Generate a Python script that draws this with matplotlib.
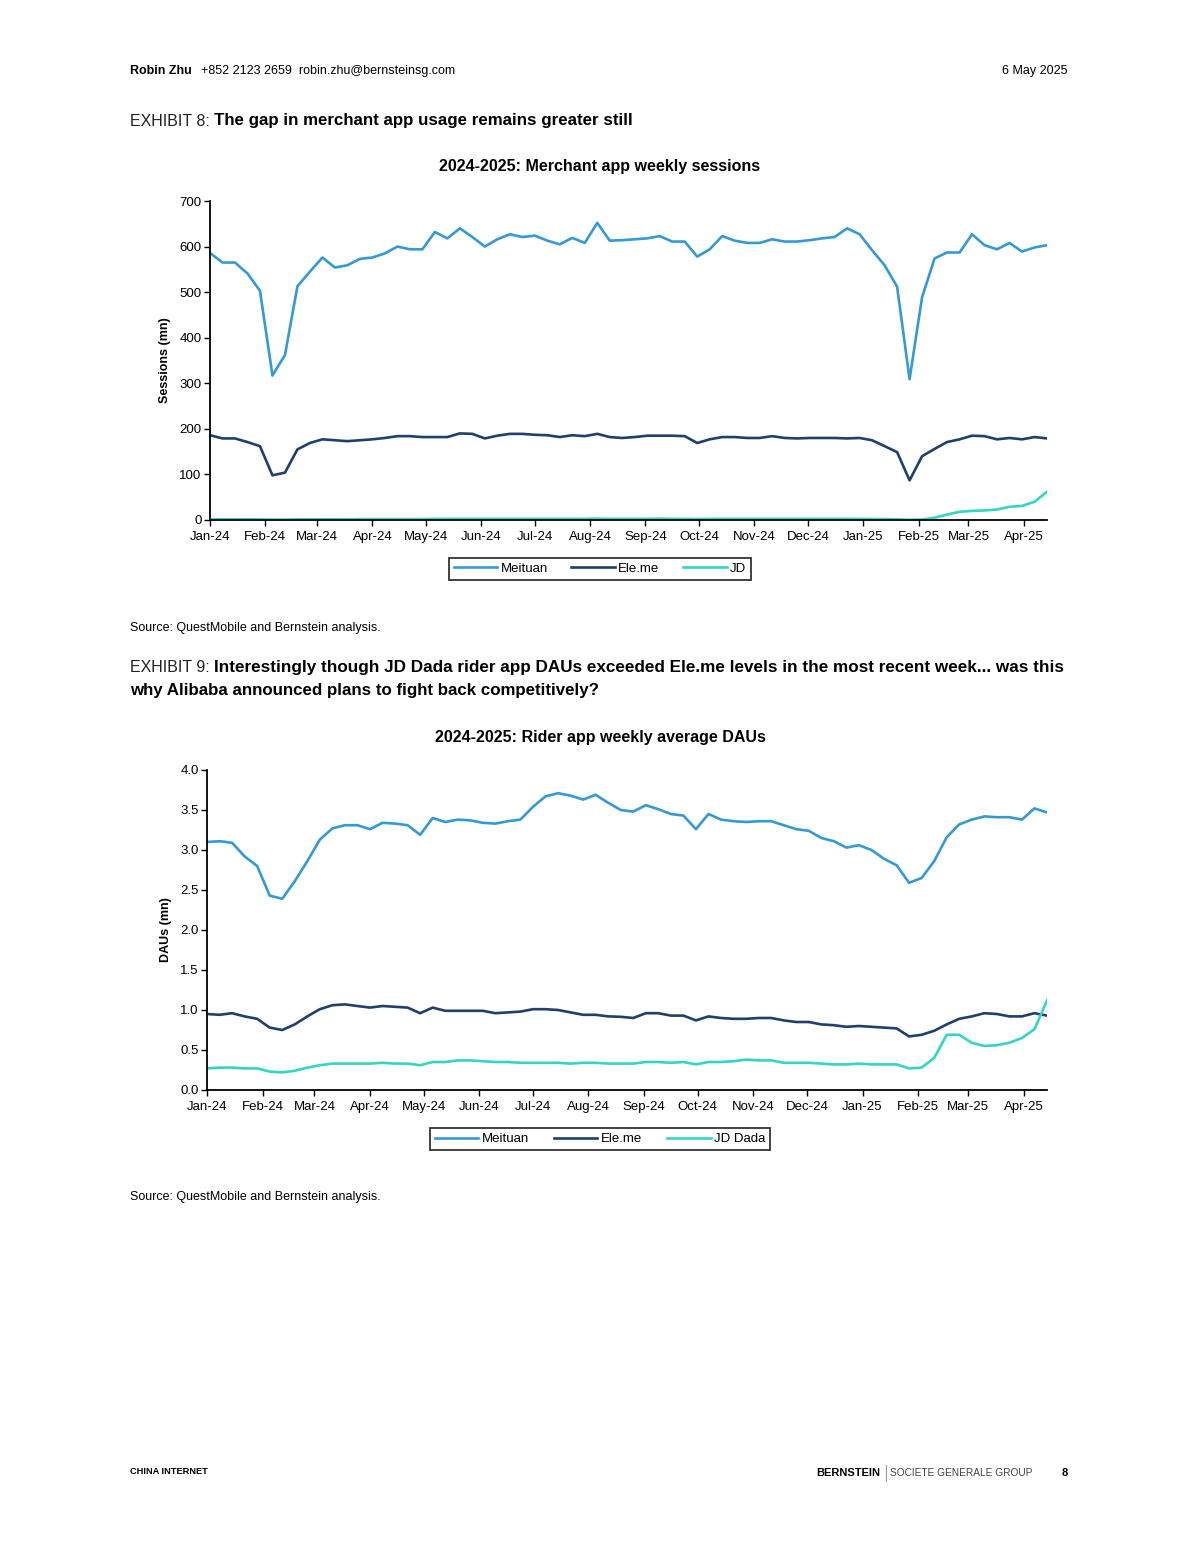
import numpy as np
import pandas as pd
import matplotlib
matplotlib.use("Agg")
import matplotlib.pyplot as plt
import matplotlib.dates as mdates
from matplotlib.lines import Line2D

plt.rcParams['font.family'] = ['Liberation Sans', 'DejaVu Sans']

# weekly data, Jan-24 .. mid Apr-25
weeks = pd.date_range('2024-01-01', periods=68, freq='7D')

# merchant app weekly sessions (mn)
meituan_sessions = [586, 565, 565, 541, 503, 317, 362, 513, 545, 576, 554, 559, 573, 576, 585, 600, 594,
                    594, 632, 618, 640, 621, 600, 616, 627, 621, 624, 613, 605, 619, 608, 652, 613, 614,
                    616, 618, 623, 611, 611, 578, 594, 623, 613, 608, 608, 616, 611, 611, 614, 618, 621,
                    640, 627, 592, 559, 512, 309, 489, 574, 587, 587, 627, 603, 594, 608, 589, 598, 603]
eleme_sessions = [186, 179, 179, 171, 162, 98, 104, 155, 169, 177, 175, 173, 175, 177, 180, 184, 184,
                  182, 182, 182, 190, 189, 179, 185, 189, 189, 187, 186, 182, 186, 184, 189, 182, 180,
                  182, 185, 185, 185, 184, 169, 177, 182, 182, 180, 180, 184, 180, 179, 180, 180, 180,
                  179, 180, 175, 162, 149, 87, 140, 156, 171, 177, 185, 184, 177, 180, 177, 182, 179]
jd_sessions = [1.5, 1.5, 1.5, 1.5, 1.5, 1.0, 1.0, 1.5, 1.5, 1.5, 1.5, 1.5, 2.0, 2.0, 2.0, 2.0, 2.0,
               2.0, 2.5, 2.5, 2.5, 2.5, 2.5, 2.5, 2.5, 2.5, 2.5, 2.5, 2.5, 2.5, 2.5, 3.0, 2.5, 2.5,
               2.5, 2.5, 3.0, 2.5, 2.5, 2.0, 2.5, 2.5, 2.5, 2.5, 2.5, 2.5, 2.5, 2.5, 2.5, 2.5, 2.5,
               2.5, 2.5, 2.0, 2.0, 1.5, 0.5, 1.0, 5, 12, 18, 20, 21, 23, 29, 31, 40, 62]

# rider app weekly average DAUs (mn)
meituan_dau = [3.10, 3.11, 3.09, 2.92, 2.80, 2.43, 2.39, 2.61, 2.86, 3.13, 3.27, 3.31, 3.31, 3.26, 3.34,
               3.33, 3.31, 3.19, 3.40, 3.35, 3.38, 3.37, 3.34, 3.33, 3.36, 3.38, 3.54, 3.67, 3.71, 3.68,
               3.63, 3.69, 3.59, 3.50, 3.48, 3.56, 3.51, 3.45, 3.43, 3.26, 3.45, 3.38, 3.36, 3.35, 3.36,
               3.36, 3.31, 3.26, 3.24, 3.15, 3.11, 3.03, 3.06, 3.00, 2.89, 2.81, 2.59, 2.65, 2.86, 3.16,
               3.32, 3.38, 3.42, 3.41, 3.41, 3.38, 3.52, 3.47]
eleme_dau = [0.95, 0.94, 0.96, 0.92, 0.89, 0.78, 0.75, 0.82, 0.92, 1.01, 1.06, 1.07, 1.05, 1.03, 1.05,
             1.04, 1.03, 0.96, 1.03, 0.99, 0.99, 0.99, 0.99, 0.96, 0.97, 0.98, 1.01, 1.01, 1.00, 0.97,
             0.94, 0.94, 0.92, 0.915, 0.90, 0.96, 0.96, 0.93, 0.93, 0.87, 0.92, 0.90, 0.89, 0.89, 0.90,
             0.90, 0.87, 0.85, 0.85, 0.82, 0.81, 0.79, 0.80, 0.79, 0.78, 0.77, 0.67, 0.69, 0.74, 0.82,
             0.89, 0.92, 0.96, 0.95, 0.92, 0.92, 0.96, 0.93]
jd_dada_dau = [0.27, 0.28, 0.28, 0.27, 0.27, 0.23, 0.22, 0.24, 0.28, 0.31, 0.33, 0.33, 0.33, 0.33, 0.34,
               0.33, 0.33, 0.31, 0.35, 0.35, 0.37, 0.37, 0.36, 0.35, 0.35, 0.34, 0.34, 0.34, 0.34, 0.33,
               0.34, 0.34, 0.33, 0.33, 0.33, 0.35, 0.35, 0.34, 0.35, 0.32, 0.35, 0.35, 0.36, 0.38, 0.37,
               0.37, 0.34, 0.34, 0.34, 0.33, 0.32, 0.32, 0.33, 0.32, 0.32, 0.32, 0.27, 0.28, 0.40, 0.69,
               0.69, 0.59, 0.55, 0.56, 0.59, 0.65, 0.76, 1.12]

C_MEITUAN = '#339ad5'
C_ELEME = '#1f3f6c'
C_JD = '#33d6c2'
LW = 1.9

W, H = 1200, 1555
fig = plt.figure(figsize=(W / 100, H / 100), dpi=100)
renderer = fig.canvas.get_renderer()


def fx(x):
    return x / W


def fy(y):
    return 1 - y / H


def axes_px(l, t, r, b):
    return fig.add_axes([fx(l), fy(b), (r - l) / W, (b - t) / H])


def chain(x, y, parts, gap=4):
    # parts: list of (text, size, weight, color); placed one after another on one line
    for s, size, weight, color in parts:
        t = fig.text(fx(x), fy(y), s, fontsize=size, fontweight=weight, color=color, va='center')
        bb = t.get_window_extent(renderer)
        x = bb.x1 + gap


def style_axis(ax, ylim, step, fmt, ylabel):
    ax.set_xlim(weeks[0], weeks[-1])
    ax.set_ylim(*ylim)
    ax.set_yticks(np.arange(ylim[0], ylim[1] + step / 2, step))
    ax.yaxis.set_major_formatter(plt.FormatStrFormatter(fmt))
    ax.xaxis.set_major_locator(mdates.MonthLocator())
    ax.xaxis.set_major_formatter(mdates.DateFormatter('%b-%y'))
    for s in ['top', 'right']:
        ax.spines[s].set_visible(False)
    for s in ['left', 'bottom']:
        ax.spines[s].set_linewidth(1.3)
        ax.spines[s].set_color('black')
    ax.tick_params(axis='both', direction='out', length=4, width=1.0, labelsize=9.5, pad=2)
    ax.tick_params(axis='x', pad=4)
    ax.set_ylabel(ylabel, fontsize=9, fontweight='bold', labelpad=6)


def legend_at(labels, cy, colsp):
    handles = [Line2D([], [], color=c, lw=LW) for c in [C_MEITUAN, C_ELEME, C_JD]]
    leg = fig.legend(handles, labels, loc='center', bbox_to_anchor=(0.5, fy(cy)), ncol=3,
                     frameon=True, fancybox=False, edgecolor='black', fontsize=9.5,
                     handlelength=3.3, handletextpad=0.25, columnspacing=colsp, borderpad=0.35)
    leg.get_frame().set_linewidth(1.3)


# exhibit 8
ax1 = axes_px(210, 201, 1047, 520)
ax1.plot(weeks, meituan_sessions, color=C_MEITUAN, lw=LW, label='Meituan')
ax1.plot(weeks, eleme_sessions, color=C_ELEME, lw=LW, label='Ele.me')
ax1.plot(weeks, jd_sessions, color=C_JD, lw=LW, label='JD')
style_axis(ax1, (0, 700), 100, '%d', 'Sessions (mn)')
fig.text(fx(600), fy(167), '2024-2025: Merchant app weekly sessions', fontsize=11.5,
         fontweight='bold', ha='center', va='center')
legend_at(['Meituan', 'Ele.me', 'JD'], 569, 1.8)

# exhibit 9
ax2 = axes_px(207, 770, 1047, 1090)
ax2.plot(weeks, meituan_dau, color=C_MEITUAN, lw=LW, label='Meituan')
ax2.plot(weeks, eleme_dau, color=C_ELEME, lw=LW, label='Ele.me')
ax2.plot(weeks, jd_dada_dau, color=C_JD, lw=LW, label='JD Dada')
style_axis(ax2, (0, 4), 0.5, '%.1f', 'DAUs (mn)')
fig.text(fx(600), fy(737), '2024-2025: Rider app weekly average DAUs', fontsize=11.5,
         fontweight='bold', ha='center', va='center')
legend_at(['Meituan', 'Ele.me', 'JD Dada'], 1139, 1.9)

# page text
chain(130, 71, [('Robin Zhu', 9, 'bold', 'black'),
                ('+852 2123 2659  robin.zhu@bernsteinsg.com', 9, 'normal', 'black')], gap=9)
fig.text(fx(1068), fy(71), '6 May 2025', fontsize=9, va='center', ha='right')

chain(130, 121, [('EXHIBIT 8:', 11.5, 'normal', '#222222'),
                 ('The gap in merchant app usage remains greater still', 12.2, 'bold', 'black')])
fig.text(fx(130), fy(628), 'Source: QuestMobile and Bernstein analysis.', fontsize=9, va='center')

chain(130, 667, [('EXHIBIT 9:', 11.5, 'normal', '#222222'),
                 ('Interestingly though JD Dada rider app DAUs exceeded Ele.me levels in the most recent week... was this',
                  12.3, 'bold', 'black')])
fig.text(fx(130), fy(691), 'why Alibaba announced plans to fight back competitively?', fontsize=12.2,
         fontweight='bold', va='center')
fig.text(fx(130), fy(1197), 'Source: QuestMobile and Bernstein analysis.', fontsize=9, va='center')

fig.text(fx(130), fy(1471), 'CHINA INTERNET', fontsize=6.7, fontweight='bold', va='center')
fig.text(fx(880), fy(1473), 'BERNSTEIN', fontsize=8, fontweight='bold', va='center', ha='right')
fig.add_artist(Line2D([fx(886), fx(886)], [fy(1465), fy(1481)], color='#999999', lw=0.8))
fig.text(fx(890), fy(1473), 'SOCIETE GENERALE GROUP', fontsize=7.3, va='center', color='#444444')
fig.text(fx(1068), fy(1473), '8', fontsize=8, fontweight='bold', va='center', ha='right')

fig.savefig('out.png', dpi=100)
